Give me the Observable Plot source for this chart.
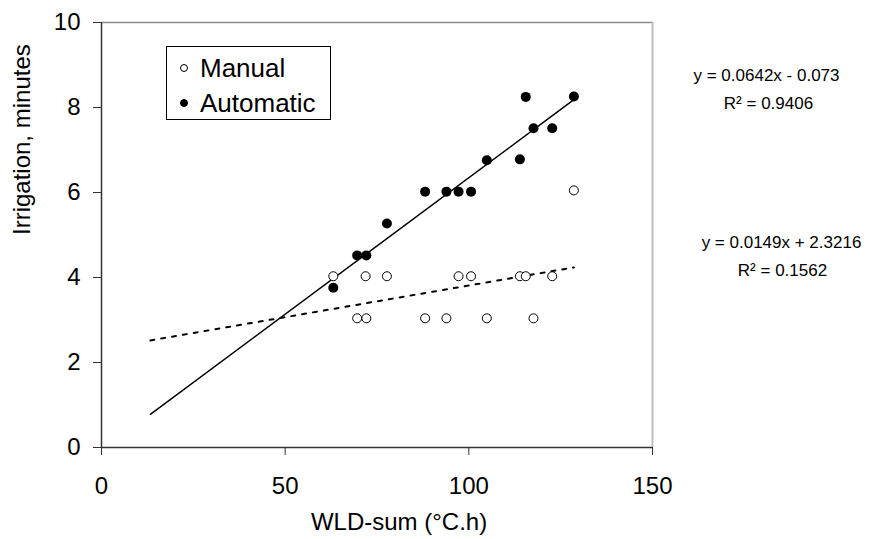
<!DOCTYPE html>
<html><head><meta charset="utf-8">
<script src="https://cdn.jsdelivr.net/npm/d3@7"></script>
<script src="https://cdn.jsdelivr.net/npm/@observablehq/plot@0.6"></script>
<style>
body{margin:0;background:#fff}
#chart svg{font-family:"Liberation Sans",Arial,sans-serif;}
</style>
</head><body><div id="chart"></div>
<script>
// Data
const autoX = [63.1, 69.6, 72.1, 77.7, 88.1, 93.9, 97.2, 100.6, 104.9, 113.9, 115.5, 117.6, 122.7, 128.6];
const autoY = [3.76, 4.52, 4.52, 5.27, 6.02, 6.02, 6.02, 6.02, 6.76, 6.78, 8.25, 7.51, 7.51, 8.26];
const manualX = [63.1, 71.9, 77.7, 97.2, 100.6, 113.9, 115.5, 122.7, 128.6, 69.6, 72.1, 88.1, 93.9, 104.9, 117.6];
const manualY = [4.03, 4.03, 4.03, 4.03, 4.03, 4.03, 4.03, 4.03, 6.05, 3.04, 3.04, 3.04, 3.04, 3.04, 3.04];
const xTicks = [0, 50, 100, 150];
const yTicks = [0, 2, 4, 6, 8, 10];
const seriesNames = ["Manual", "Automatic"];
const slopes = [0.0149, 0.0642];
const intercepts = [2.3216, -0.073];
const r2 = ["0.1562", "0.9406"];
const trendRange = [13.3, 128.6];
const xTitle = "WLD-sum (°C.h)";
const yTitle = "Irrigation, minutes";

const autoData = autoX.map((x, i) => ({x, y: autoY[i]}));
const manualData = manualX.map((x, i) => ({x, y: manualY[i]}));
const trend = (k) => trendRange.map(x => ({x, y: slopes[k] * x + intercepts[k]}));
const fmtEq = (k) => `y = ${slopes[k]}x ${intercepts[k] < 0 ? "-" : "+"} ${Math.abs(intercepts[k])}`;

const W = 889, H = 539;
const font = '"Liberation Sans", Arial, sans-serif';
const txt = {lineAnchor: "middle", fill: "#000"};

const plot = Plot.plot({
  width: W, height: H,
  marginLeft: 101, marginRight: 237, marginTop: 22, marginBottom: 92,
  style: {fontFamily: font, fontSize: "24px", color: "#000", background: "#fff", overflow: "visible"},
  x: {domain: [0, 150], label: null},
  y: {domain: [0, 10], label: null},
  marks: [
    Plot.ruleY([10], {stroke: "#8a8a8a", strokeWidth: 1.5}),
    Plot.ruleX([150], {stroke: "#bdbdbd", strokeWidth: 2}),
    Plot.axisX({ticks: xTicks, tickSize: 8, tickPadding: 21, fontSize: 24, label: null, stroke: "#333"}),
    Plot.axisY({ticks: yTicks, tickSize: 8, tickPadding: 13, fontSize: 24, label: null, stroke: "#333"}),
    Plot.ruleX([0], {stroke: "#333", strokeWidth: 1.5}),
    Plot.ruleY([0], {stroke: "#333", strokeWidth: 1.5}),
    Plot.line(trend(1), {x: "x", y: "y", stroke: "#000", strokeWidth: 1.5}),
    Plot.line(trend(0), {x: "x", y: "y", stroke: "#000", strokeWidth: 2, strokeDasharray: "4,7"}),
    Plot.dot(manualData, {x: "x", y: "y", r: 4.5, stroke: "#000", strokeWidth: 1, fill: "#fff"}),
    Plot.dot(autoData, {x: "x", y: "y", r: 5, fill: "#000", stroke: "none"}),
    Plot.text([xTitle], {...txt, frameAnchor: "bottom", dx: 22, dy: 75, fontSize: 24}),
    Plot.text([yTitle], {...txt, frameAnchor: "left", rotate: -90, dx: -79, fontSize: 24}),
    Plot.text([fmtEq(1)], {...txt, frameAnchor: "top-right", dx: 114, dy: 53, textAnchor: "middle", fontSize: 17}),
    Plot.text([`R² = ${r2[1]}`], {...txt, frameAnchor: "top-right", dx: 116, dy: 81, textAnchor: "middle", fontSize: 17}),
    Plot.text([fmtEq(0)], {...txt, frameAnchor: "top-right", dx: 129, dy: 220, textAnchor: "middle", fontSize: 17}),
    Plot.text([`R² = ${r2[0]}`], {...txt, frameAnchor: "top-right", dx: 130, dy: 248, textAnchor: "middle", fontSize: 17})
  ]
});

// Legend box drawn onto the same SVG
const svg = d3.select(plot);
const lg = svg.append("g").attr("font-family", font).attr("font-size", 26).attr("text-anchor", "start");
lg.append("rect").attr("x", 166.5).attr("y", 46.5).attr("width", 164).attr("height", 73)
  .attr("fill", "#fff").attr("stroke", "#000").attr("stroke-width", 1);
seriesNames.forEach((name, i) => {
  const cy = 68 + i * 35;
  lg.append("circle").attr("cx", 184).attr("cy", cy).attr("r", 3.5)
    .attr("fill", i === 0 ? "#fff" : "#000").attr("stroke", "#000").attr("stroke-width", 1);
  lg.append("text").attr("x", 200).attr("y", cy).attr("dy", "0.35em").attr("text-anchor", "start").text(name);
});

document.getElementById("chart").appendChild(plot);
</script>
</body></html>
